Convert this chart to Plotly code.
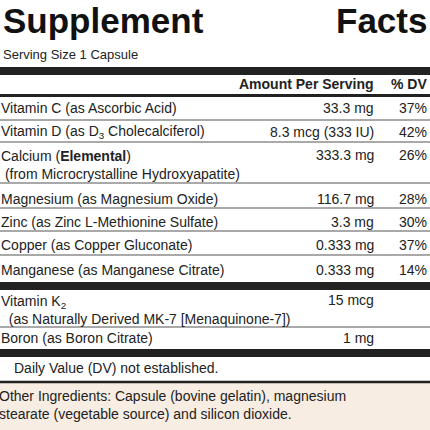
import plotly.graph_objects as go

names = ["Vitamin C (as Ascorbic Acid)", "Vitamin D (as D<sub>3</sub> Cholecalciferol)",
         "Calcium (<b>Elemental</b>)<br> (from Microcrystalline Hydroxyapatite)",
         "Magnesium (as Magnesium Oxide)", "Zinc (as Zinc L-Methionine Sulfate)",
         "Copper (as Copper Gluconate)", "Manganese (as Manganese Citrate)",
         "Vitamin K<sub>2</sub><br>  (as Naturally Derived MK-7 [Menaquinone-7])",
         "Boron (as Boron Citrate)"]
amounts = ["33.3 mg", "8.3 mcg (333 IU)", "333.3 mg", "116.7 mg", "3.3 mg",
           "0.333 mg", "0.333 mg", "15 mcg", "1 mg"]
dvs = ["37%", "42%", "26%", "28%", "30%", "37%", "14%", "", ""]
row_y = [108, 132, 155, 199, 222, 245, 270, 300, 338]
sep_y = [120, 142, 183, 208, 231, 255, None, 327, None]

FONT = "Liberation Sans"
fig = go.Figure()
ann = []
shapes = []
def line(y, w, c="#222"):
    shapes.append(dict(type="line", xref="x", yref="y", x0=0, x1=430, y0=y, y1=y,
                       line=dict(color=c, width=w)))

shapes.append(dict(type="rect", xref="x", yref="y", x0=0, x1=430, y0=383, y1=430,
                   fillcolor="#f7ede2", line=dict(width=0), layer="below"))

ann.append(dict(x=0.5, y=20, text="<b>Supplement</b>", xanchor="left", yanchor="middle",
                font=dict(size=35, family=FONT, color="#111")))
ann.append(dict(x=429, y=20, text="<b>Facts</b>", xanchor="right", yanchor="middle",
                font=dict(size=35, family=FONT, color="#111")))
ann.append(dict(x=0.5, y=54, text="Serving Size 1 Capsule", xanchor="left", yanchor="middle",
                font=dict(size=13, family=FONT, color="#222")))
line(71, 8)
ann.append(dict(x=376, y=84, text="<b>Amount Per Serving</b>", xanchor="right", yanchor="middle",
                font=dict(size=14, family=FONT, color="#222")))
ann.append(dict(x=429, y=84, text="<b>% DV</b>", xanchor="right", yanchor="middle",
                font=dict(size=14, family=FONT, color="#222")))
line(95.5, 3)

for n, a, d, y, s in zip(names, amounts, dvs, row_y, sep_y):
    multi = "<br>" in n
    ann.append(dict(x=0.5, y=y, text=n, xanchor="left", yanchor="top" if multi else "middle",
                    yshift=9 if multi else 0, xshift=-2, align="left",
                    font=dict(size=14, family=FONT, color="#222")))
    ann.append(dict(x=376, y=y, text=a, xanchor="right", yanchor="middle",
                    font=dict(size=14, family=FONT, color="#222")))
    if d:
        ann.append(dict(x=429, y=y, text=d, xanchor="right", yanchor="middle",
                        font=dict(size=14, family=FONT, color="#222")))
    if s:
        line(s, 1.2, "#555")

line(286, 8)
line(353, 8)
ann.append(dict(x=12, y=368, text="Daily Value (DV) not established.", xanchor="left", yanchor="middle",
                font=dict(size=14, family=FONT, color="#222")))
line(382, 2.5)
ann.append(dict(x=0.5, y=386, text="Other Ingredients: Capsule (bovine gelatin), magnesium<br>stearate (vegetable source) and silicon dioxide.",
                xanchor="left", yanchor="top", align="left", xshift=-4,
                font=dict(size=14, family=FONT, color="#222")))
for a in ann:
    a.update(xref="x", yref="y", showarrow=False)

fig.update_layout(width=430, height=430, margin=dict(l=0, r=0, t=0, b=0),
                  paper_bgcolor="white", plot_bgcolor="white",
                  xaxis=dict(range=[0, 430], visible=False, fixedrange=True),
                  yaxis=dict(range=[430, 0], visible=False, fixedrange=True),
                  annotations=ann, shapes=shapes, showlegend=False)
fig.write_html("out.html", config={"displayModeBar": False},
               post_script="document.body.style.margin='0';document.body.style.overflow='hidden';")
